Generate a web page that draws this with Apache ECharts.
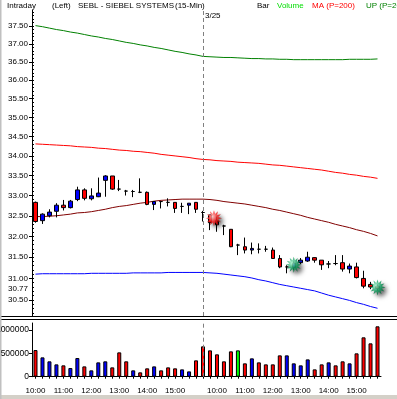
<!DOCTYPE html>
<html>
<head>
<meta charset="utf-8">
<script src="https://cdn.jsdelivr.net/npm/echarts@6/dist/echarts.min.js"></script>
<style>
  html, body { margin: 0; padding: 0; background: #fff; }
  #chart { width: 397px; height: 399px; }
</style>
</head>
<body>
<div id="chart"></div>
<script>
// 15-min bars, two sessions (3/24 from 10:00, 3/25 from 9:30)
const times = [
  '10:00','10:15','10:30','10:45','11:00','11:15','11:30','11:45','12:00','12:15','12:30','12:45',
  '13:00','13:15','13:30','13:45','14:00','14:15','14:30','14:45','15:00','15:15','15:30','15:45',
  '9:30','9:45','10:00','10:15','10:30','10:45','11:00','11:15','11:30','11:45','12:00','12:15',
  '12:30','12:45','13:00','13:15','13:30','13:45','14:00','14:15','14:30','14:45','15:00','15:15',
  '15:30','15:45'
];
const opens = [
  32.83,32.38,32.50,32.61,32.76,32.70,32.90,33.14,32.92,32.97,33.38,33.49,
  33.16,33.11,33.10,33.08,33.08,32.78,32.85,32.83,32.83,32.73,32.76,32.83,
  32.58,32.52,32.38,32.25,32.17,31.79,31.75,31.67,31.69,31.69,31.67,31.47,
  31.27,31.26,31.37,31.41,31.49,31.43,31.34,31.35,31.37,31.22,31.27,31.00,
  30.86,30.82
];
const closes = [
  32.36,32.54,32.59,32.76,32.70,32.86,33.14,32.93,32.99,33.06,33.49,33.16,
  33.16,33.11,33.10,33.08,32.78,32.85,32.85,32.83,32.68,32.73,32.81,32.66,
  32.58,32.33,32.28,32.25,31.75,31.79,31.67,31.71,31.69,31.69,31.47,31.27,
  31.27,31.36,31.43,31.50,31.43,31.32,31.34,31.35,31.22,31.29,31.02,30.82,
  30.80,30.77
];
const lows = [
  32.33,32.30,32.46,32.46,32.63,32.68,32.86,32.88,32.88,32.96,32.97,33.14,
  33.11,33.00,32.96,33.06,32.76,32.64,32.68,32.73,32.57,32.57,32.54,32.57,
  32.36,32.15,32.11,32.03,31.74,31.55,31.59,31.57,31.59,31.63,31.47,31.24,
  31.12,31.20,31.34,31.39,31.37,31.20,31.24,31.31,31.16,31.12,31.00,30.77,
  30.75,30.72
];
const highs = [
  32.85,32.56,32.66,32.81,32.89,32.89,33.22,33.18,33.18,33.45,33.51,33.49,
  33.39,33.14,33.14,33.43,33.10,32.85,32.86,32.93,32.83,32.82,32.81,32.83,
  32.62,32.52,32.48,32.28,32.17,31.82,31.97,31.85,31.83,31.77,31.73,31.55,
  31.31,31.40,31.48,31.63,31.50,31.43,31.41,31.55,31.55,31.35,31.37,31.18,
  30.92,30.86
];
const volumes = [
  571000,414000,329000,264000,243000,186000,400000,221000,136000,307000,329000,200000,
  521000,329000,136000,93000,179000,221000,136000,200000,179000,157000,114000,350000,
  650000,564000,479000,329000,543000,564000,286000,393000,307000,264000,264000,457000,
  457000,286000,243000,371000,157000,264000,307000,243000,329000,286000,500000,843000,
  714000,1079000
];
const volColors = [
  'r','b','b','b','r','b','b','r','b','b','b','r',
  'r','r','b','r','r','b','r','r','r','b','b','r',
  'r','r','r','r','r','g','r','b','r','r','r','r',
  'b','b','b','b','r','r','b','r','r','b','r','r',
  'r','r'
];
const upBand = [
  37.51,37.48,37.44,37.40,37.37,37.33,37.30,37.26,37.22,37.19,37.15,37.12,
  37.08,37.04,37.01,36.97,36.94,36.90,36.87,36.83,36.79,36.76,36.72,36.69,
  36.65,36.64,36.63,36.62,36.62,36.61,36.60,36.59,36.59,36.58,36.58,36.57,
  36.57,36.56,36.56,36.56,36.56,36.56,36.56,36.56,36.56,36.57,36.57,36.57,
  36.57,36.58
];
const maBand = [
  34.31,34.30,34.29,34.28,34.27,34.26,34.24,34.23,34.22,34.20,34.19,34.17,
  34.15,34.14,34.12,34.11,34.09,34.07,34.04,34.02,34.00,33.98,33.96,33.93,
  33.91,33.90,33.88,33.87,33.86,33.84,33.83,33.82,33.81,33.79,33.77,33.76,
  33.74,33.72,33.70,33.68,33.66,33.64,33.61,33.58,33.56,33.53,33.51,33.48,
  33.46,33.43
];
const midLine = [
  32.48,32.48,32.49,32.50,32.52,32.54,32.57,32.58,32.60,32.63,32.66,32.70,
  32.73,32.75,32.78,32.81,32.83,32.86,32.88,32.89,32.90,32.91,32.91,32.91,
  32.91,32.90,32.88,32.85,32.83,32.81,32.79,32.76,32.73,32.70,32.66,32.63,
  32.59,32.55,32.51,32.46,32.42,32.38,32.34,32.29,32.25,32.21,32.16,32.12,
  32.07,32.01
];
const dnBand = [
  31.10,31.11,31.11,31.11,31.11,31.11,31.11,31.11,31.12,31.12,31.12,31.12,
  31.12,31.12,31.13,31.13,31.13,31.13,31.13,31.14,31.14,31.14,31.14,31.14,
  31.14,31.13,31.12,31.10,31.08,31.06,31.04,31.01,30.97,30.94,30.90,30.86,
  30.83,30.80,30.77,30.74,30.71,30.66,30.61,30.57,30.53,30.49,30.44,30.40,
  30.35,30.31
];
// signal markers
const signalIdx = [26, 37, 49];
const signalPrice = [32.44, 31.32, 30.79];
const signalType = ['sell', 'buy', 'buy'];

const priceLabels = [30.5, 30.77, 31, 31.5, 32, 32.5, 33, 33.5, 34, 34.5, 35, 35.5, 36, 36.5, 37, 37.5];
const priceTicks = [30.5, 31, 31.5, 32, 32.5, 33, 33.5, 34, 34.5, 35, 35.5, 36, 36.5, 37, 37.5];
const volLabels = [0, 500000, 1000000];
const sessionStart = 24; // 3/25 first bar

const minorTicks = [];
for (let v = 30.2; v < 37.95; v += 0.1) minorTicks.push(+v.toFixed(2));

const font = "'Liberation Sans', Arial, sans-serif";
const colorMap = { r: '#ff0000', b: '#0000ff', g: '#00ff00' };

function starPath(n, rIn) {
  let d = '';
  for (let k = 0; k < 2 * n; k++) {
    const r = k % 2 ? rIn : 1;
    const a = Math.PI * k / n - Math.PI / 2;
    d += (k ? 'L' : 'M') + (r * Math.cos(a)).toFixed(3) + ' ' + (r * Math.sin(a)).toFixed(3);
  }
  return 'path://' + d + 'Z';
}

const starFill = {
  sell: new echarts.graphic.RadialGradient(0.4, 0.4, 0.7, [
    { offset: 0, color: '#ffc8c8' }, { offset: 0.45, color: '#ff2020' }, { offset: 1, color: '#8a0000' }
  ]),
  buy: new echarts.graphic.RadialGradient(0.4, 0.4, 0.7, [
    { offset: 0, color: '#b0ffd8' }, { offset: 0.45, color: '#10a060' }, { offset: 1, color: '#004a25' }
  ])
};

const chart = echarts.init(document.getElementById('chart'));

const header = [
  ['Intraday', 7, '#000'], ['(Left)', 52, '#000'], ['SEBL - SIEBEL SYSTEMS', 78, '#000'],
  ['(15-Min)', 175, '#000'], ['Bar', 257, '#000'], ['Volume', 277, '#00dd00'],
  ['MA (P=200)', 312, '#ff0000'], ['UP (P=200)', 366, '#008000']
];

const option = {
  animation: false,
  textStyle: { fontFamily: font },
  grid: [
    { left: 32, top: 10, width: 349, height: 306, outerBoundsMode: 'none' },
    { left: 32, top: 323, width: 349, height: 53.7, outerBoundsMode: 'none' }
  ],
  xAxis: [
    { gridIndex: 0, type: 'category', data: times, show: false },
    {
      gridIndex: 1, type: 'category', data: times,
      axisLine: { lineStyle: { color: '#000', width: 1 } },
      axisTick: { show: true, interval: 0, length: 2, alignWithLabel: true, lineStyle: { color: '#000' } },
      axisLabel: {
        interval: (i, v) => v.endsWith(':00'),
        color: '#000', fontSize: 8, fontFamily: font, margin: 10
      },
      splitLine: { show: false }
    }
  ],
  yAxis: [
    {
      gridIndex: 0, type: 'log', logBase: 10, min: 30.134, max: 37.955, position: 'left',
      axisLine: { show: true, lineStyle: { color: '#000' } },
      axisTick: { show: true, customValues: priceTicks, length: 3, lineStyle: { color: '#000' } },
      axisLabel: {
        customValues: priceLabels, formatter: v => Number(v).toFixed(2),
        color: '#000', fontSize: 8, fontFamily: font, margin: 4
      },
      splitLine: { show: false }
    },
    {
      gridIndex: 0, type: 'log', logBase: 10, min: 30.134, max: 37.955, position: 'left',
      axisLine: { show: false },
      axisTick: { show: true, inside: true, customValues: minorTicks, length: 2, lineStyle: { color: '#000' } },
      axisLabel: { show: false },
      splitLine: { show: false }
    },
    {
      gridIndex: 1, type: 'value', min: 0, max: 1150000,
      axisLine: { show: true, lineStyle: { color: '#000' } },
      axisTick: { show: true, customValues: volLabels, length: 3, lineStyle: { color: '#000' } },
      axisLabel: {
        customValues: volLabels, formatter: v => String(v),
        color: '#000', fontSize: 8.5, fontFamily: font, margin: 3
      },
      splitLine: { show: false }
    }
  ],
  series: [
    { type: 'line', data: upBand, symbol: 'none', lineStyle: { color: '#008000', width: 1 }, z: 1, silent: true },
    { type: 'line', data: maBand, symbol: 'none', lineStyle: { color: '#ff0000', width: 1 }, z: 1, silent: true },
    { type: 'line', data: midLine, symbol: 'none', lineStyle: { color: '#800000', width: 1 }, z: 1, silent: true },
    { type: 'line', data: dnBand, symbol: 'none', lineStyle: { color: '#0000ff', width: 1 }, z: 1, silent: true },
    {
      type: 'candlestick', z: 3,
      barWidth: 4,
      data: opens.map((o, i) => [o, closes[i], lows[i], highs[i]]),
      itemStyle: {
        color: '#0000ff', color0: '#ff0000',
        borderColor: '#000', borderColor0: '#000', borderColorDoji: '#000', borderWidth: 1
      },
      markLine: {
        silent: true, symbol: 'none', label: { show: false },
        lineStyle: { type: [4, 3], color: '#808080', width: 1 },
        data: [{ xAxis: sessionStart }]
      }
    },
    {
      type: 'scatter', z: 5,
      symbol: starPath(12, 0.55), symbolSize: 16,
      data: signalIdx.map((x, i) => ({
        value: [x, signalPrice[i]],
        symbolOffset: signalType[i] === 'sell' ? [-3, 0] : [0, 0],
        itemStyle: {
          color: starFill[signalType[i]],
          shadowBlur: 4, shadowOffsetX: 3, shadowOffsetY: 3, shadowColor: 'rgba(0,0,0,0.7)'
        }
      }))
    },
    {
      type: 'bar', xAxisIndex: 1, yAxisIndex: 2, barWidth: 4,
      data: volumes.map((v, i) => ({ value: v, itemStyle: { color: colorMap[volColors[i]] } })),
      itemStyle: { borderColor: '#000', borderWidth: 1 },
      markLine: {
        silent: true, symbol: 'none', label: { show: false },
        lineStyle: { type: [4, 3], color: '#808080', width: 1 },
        data: [{ xAxis: sessionStart }]
      }
    }
  ],
  graphic: [
    ...header.map(h => ({
      type: 'text', left: h[1], top: 2,
      style: { text: h[0], fill: h[2], font: '8px ' + font }
    })),
    { type: 'text', left: 205, top: 12, style: { text: '3/25', fill: '#000', font: '8px ' + font } },
    { type: 'line', shape: { x1: 0, y1: 316.5, x2: 397, y2: 316.5 }, style: { stroke: '#000', lineWidth: 1 } },
    { type: 'line', shape: { x1: 0, y1: 319.5, x2: 397, y2: 319.5 }, style: { stroke: '#000', lineWidth: 1 } },
    { type: 'rect', shape: { x: 0, y: 395, width: 397, height: 4 }, style: { fill: '#d4d0c8' } },
    { type: 'rect', shape: { x: 0, y: 0, width: 1.5, height: 399 }, style: { fill: '#c0c0c0' } }
  ]
};

chart.setOption(option);
</script>
</body>
</html>
